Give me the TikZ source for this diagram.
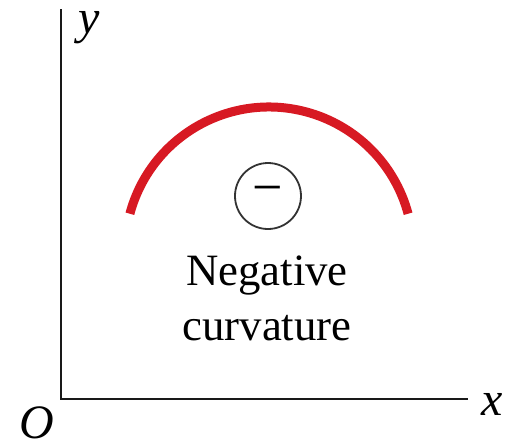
\documentclass[tikz,border=0pt]{standalone}
\usepackage{fontspec}
\setmainfont{Liberation Serif}
\definecolor{curvred}{RGB}{215,25,35}
\tikzset{
    axis/.style={line width=0.7pt, black!90},
    axislabel/.style={font=\fontsize{12}{14}\selectfont\itshape, inner sep=0pt},
    signcircle/.style={circle, draw=black!80, line width=0.45pt, minimum size=16.5pt, inner sep=0pt, font=\fontsize{13.5}{15}\selectfont},
    caption/.style={font=\fontsize{11.2}{13.75}\selectfont, inner sep=0pt, anchor=base}
}
\begin{document}
\begin{tikzpicture}[x=0.25pt, y=0.25pt]
\useasboundingbox (0,0) rectangle (508,444);
% axes
\coordinate (origin) at (61,45);
\coordinate (ytop) at (61,435);
\coordinate (xend) at (468,45);
\draw[axis] (ytop) -- (origin) -- (xend);
\node[axislabel] (ylab) at (89,416) {y};
\node[axislabel] (xlab) at (492,40) {x};
\node[axislabel] (olab) at (37,21) {O};
% curve bending down
\draw[curvred, line width=2.25pt] (269,193) ++(165:144) arc (165:15:144);
\node[signcircle] (sign) at (268,248) {−};
\node[caption] (neg) at (267,159) {Negative};
\node[caption] (curv) at (267,104) {curvature};
\end{tikzpicture}
\end{document}
